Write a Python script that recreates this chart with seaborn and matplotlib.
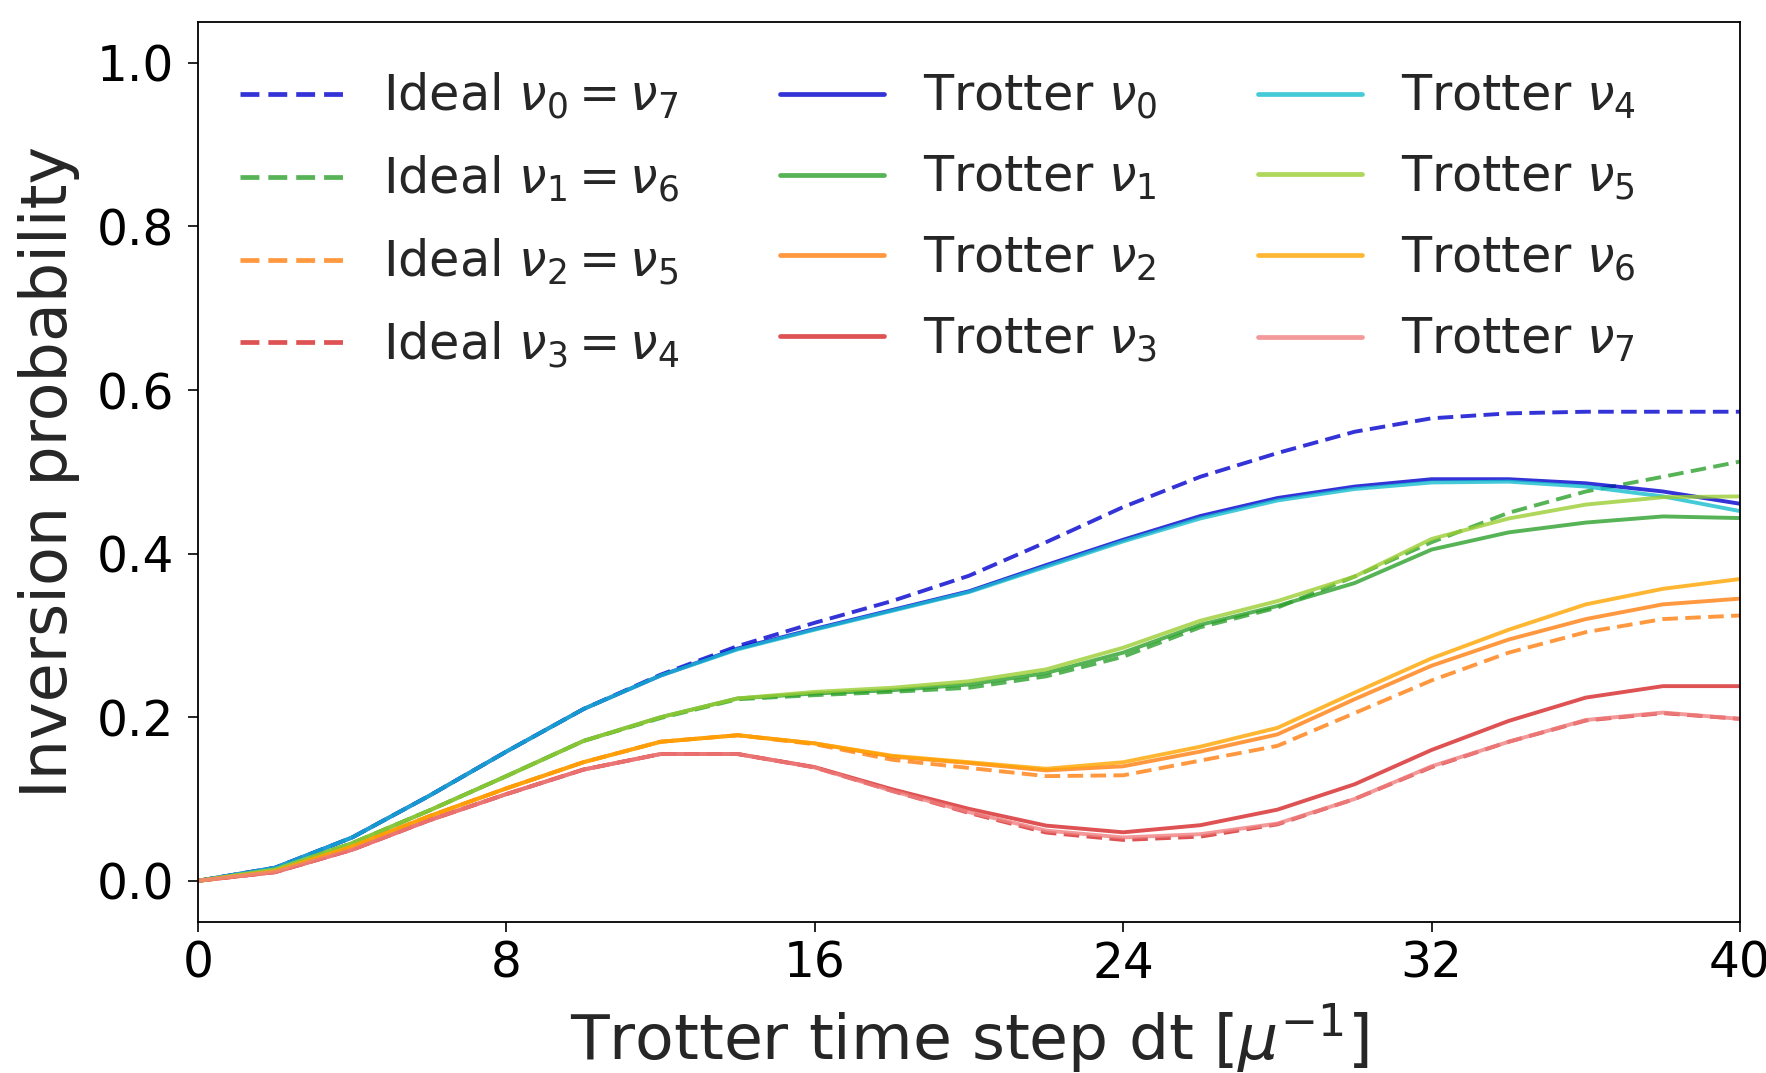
import numpy as np
import pandas as pd
import matplotlib
matplotlib.use("Agg")
import matplotlib.pyplot as plt
import seaborn as sns

# ---------------- data ----------------
dt = [0, 2, 4, 6, 8, 10, 12, 14, 16, 18, 20, 22, 24, 26, 28, 30, 32, 34, 36, 38, 40]

ideal_0 = [0, 0.016, 0.053, 0.104, 0.158, 0.210, 0.252, 0.287, 0.3155, 0.342, 0.373,
           0.414, 0.457, 0.494, 0.523, 0.549, 0.5655, 0.5715, 0.5735, 0.5735, 0.5735]
ideal_1 = [0, 0.014, 0.046, 0.086, 0.128, 0.171, 0.199, 0.222, 0.227, 0.231, 0.236,
           0.250, 0.274, 0.310, 0.334, 0.372, 0.414, 0.450, 0.476, 0.494, 0.5126]
ideal_2 = [0, 0.012, 0.042, 0.079, 0.113, 0.145, 0.170, 0.178, 0.167, 0.148, 0.138,
           0.128, 0.129, 0.147, 0.165, 0.205, 0.245, 0.279, 0.304, 0.320, 0.3244]
ideal_3 = [0, 0.0106, 0.038, 0.074, 0.106, 0.136, 0.155, 0.155, 0.1386, 0.110, 0.083,
           0.059, 0.050, 0.054, 0.069, 0.100, 0.139, 0.170, 0.196, 0.205, 0.198]

trot_0 = [0, 0.016, 0.053, 0.104, 0.158, 0.210, 0.251, 0.284, 0.308, 0.331, 0.354,
          0.386, 0.417, 0.446, 0.468, 0.482, 0.491, 0.491, 0.486, 0.476, 0.461]
trot_1 = [0, 0.014, 0.046, 0.086, 0.128, 0.171, 0.200, 0.223, 0.229, 0.233, 0.240,
          0.254, 0.279, 0.313, 0.336, 0.364, 0.405, 0.426, 0.438, 0.4455, 0.4435]
trot_2 = [0, 0.012, 0.042, 0.079, 0.113, 0.145, 0.170, 0.178, 0.168, 0.152, 0.144,
          0.135, 0.140, 0.158, 0.179, 0.222, 0.263, 0.295, 0.320, 0.338, 0.345]
trot_3 = [0, 0.0106, 0.038, 0.074, 0.106, 0.136, 0.155, 0.155, 0.139, 0.112, 0.088,
          0.0675, 0.0593, 0.0680, 0.0870, 0.118, 0.160, 0.1955, 0.224, 0.238, 0.238]
trot_4 = [0, 0.016, 0.053, 0.104, 0.158, 0.210, 0.251, 0.283, 0.307, 0.330, 0.353,
          0.384, 0.415, 0.443, 0.465, 0.479, 0.487, 0.488, 0.482, 0.470, 0.452]
trot_5 = [0, 0.014, 0.046, 0.086, 0.128, 0.171, 0.200, 0.223, 0.231, 0.236, 0.244,
          0.2585, 0.285, 0.318, 0.342, 0.372, 0.418, 0.443, 0.460, 0.469, 0.470]
trot_6 = [0, 0.012, 0.042, 0.079, 0.113, 0.145, 0.170, 0.178, 0.168, 0.153, 0.145,
          0.137, 0.145, 0.164, 0.187, 0.230, 0.272, 0.307, 0.338, 0.357, 0.369]
trot_7 = [0, 0.0106, 0.038, 0.074, 0.106, 0.136, 0.155, 0.155, 0.1386, 0.110, 0.084,
          0.0614, 0.053, 0.057, 0.0700, 0.100, 0.140, 0.170, 0.1966, 0.2057, 0.198]

labels = [r"Ideal $\nu_0 = \nu_7$", r"Ideal $\nu_1 = \nu_6$",
          r"Ideal $\nu_2 = \nu_5$", r"Ideal $\nu_3 = \nu_4$",
          r"Trotter $\nu_0$", r"Trotter $\nu_1$", r"Trotter $\nu_2$", r"Trotter $\nu_3$",
          r"Trotter $\nu_4$", r"Trotter $\nu_5$", r"Trotter $\nu_6$", r"Trotter $\nu_7$"]
series = [ideal_0, ideal_1, ideal_2, ideal_3,
          trot_0, trot_1, trot_2, trot_3, trot_4, trot_5, trot_6, trot_7]
colors = ["mediumblue", "tab:green", "tab:orange", "tab:red",
          "mediumblue", "tab:green", "tab:orange", "tab:red",
          "tab:cyan", "yellowgreen", "orange", "lightcoral"]
styles = ["--"] * 4 + ["-"] * 8

x_ticks = [0, 8, 16, 24, 32, 40]
y_ticks = [0.0, 0.2, 0.4, 0.6, 0.8, 1.0]

# ---------------- plot ----------------
sns.set_style("ticks")
plt.rcParams["font.family"] = ["DejaVu Sans"]
plt.rcParams["mathtext.fontset"] = "dejavusans"

fig = plt.figure(figsize=(17.66, 10.73), dpi=100)
ax = fig.add_axes([0.1121, 0.141, 0.9853 - 0.1121, 0.9795 - 0.141])

for lab, ys, c, ls in zip(labels, series, colors, styles):
    df = pd.DataFrame({"dt": dt, "p": ys})
    if ls == "--":
        sns.lineplot(data=df, x="dt", y="p", ax=ax, color=c, alpha=0.8,
                     linewidth=2.8, label=lab, linestyle=(0, (4.0, 1.9)))
    else:
        sns.lineplot(data=df, x="dt", y="p", ax=ax, color=c, alpha=0.8,
                     linewidth=2.8, label=lab)

ax.set_xlim(0, 40)
ax.set_ylim(-0.05, 1.05)
ax.set_xticks(x_ticks)
ax.set_xticklabels([str(t) for t in x_ticks])
ax.set_yticks(y_ticks)
ax.set_yticklabels([f"{t:.1f}" for t in y_ticks])
ax.tick_params(axis="both", labelsize=35, length=7, width=1.2, direction="out",
               colors="black")
ax.tick_params(axis="y", pad=10)
ax.tick_params(axis="x", pad=6)
for sp in ax.spines.values():
    sp.set_visible(True)
    sp.set_color("black")
    sp.set_linewidth(1.3)

ax.set_xlabel(r"Trotter time step dt [$\mu^{-1}$]", fontsize=45.5, labelpad=10)
ax.set_ylabel("Inversion probability", fontsize=45.8, labelpad=12)

leg = ax.legend(loc="upper left", bbox_to_anchor=(-0.003, 0.9975), ncol=3, fontsize=35.5,
                frameon=False, handlelength=2.1, handletextpad=0.8, columnspacing=2.04,
                labelspacing=0.66, borderaxespad=0.55, borderpad=0.4)
for h in leg.get_lines():
    h.set_linewidth(3.4)

fig.savefig("out.png", dpi=100)
